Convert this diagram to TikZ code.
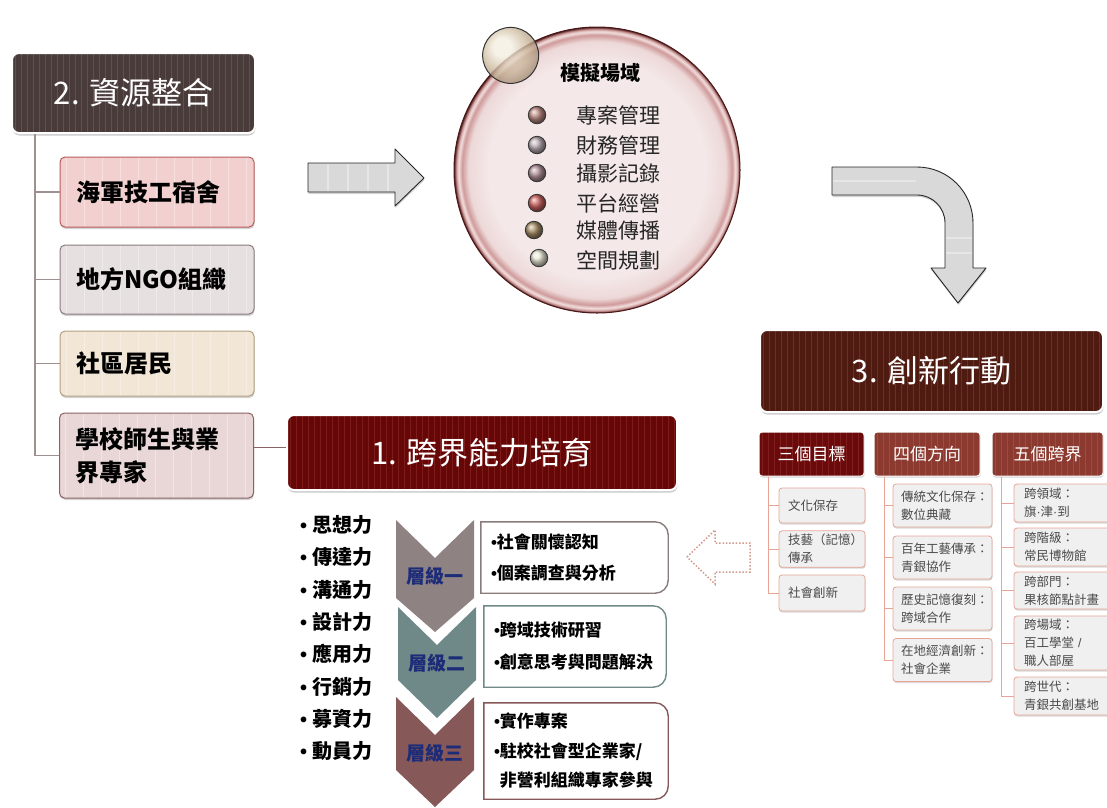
\documentclass[tikz,border=0pt]{standalone}
\usepackage{fontspec}
\setmainfont{Noto Sans CJK TC}
\newfontfamily\latinfont{Liberation Sans}
\newcommand{\bul}{{\latinfont •}}
\newcommand{\mdot}{{\latinfont ·}}
\usetikzlibrary{shadows,calc}

\definecolor{hdrtwo}{HTML}{4A3B3B}
\definecolor{hdrtwoS}{HTML}{605050}
\definecolor{hdrone}{HTML}{660707}
\definecolor{hdroneS}{HTML}{7E1C1C}
\definecolor{hdrthree}{HTML}{4F1A10}
\definecolor{hdrthreeS}{HTML}{6B3024}
\definecolor{bAf}{HTML}{F3D0D0}\definecolor{bAd}{HTML}{B85A5A}
\definecolor{bBf}{HTML}{E7E0E1}\definecolor{bBd}{HTML}{8C7C7E}
\definecolor{bCf}{HTML}{F2E6D6}\definecolor{bCd}{HTML}{B3A082}
\definecolor{bDf}{HTML}{E9D6D6}\definecolor{bDd}{HTML}{8A6464}
\definecolor{lconn}{HTML}{A08F8F}
\definecolor{chevA}{HTML}{8F8282}
\definecolor{chevB}{HTML}{6E8987}
\definecolor{chevC}{HTML}{875858}
\definecolor{lvl}{HTML}{1C2C78}
\definecolor{rAd}{HTML}{8A7C7C}
\definecolor{rBd}{HTML}{6F8A88}
\definecolor{rCd}{HTML}{875858}
\definecolor{arrfill}{HTML}{D9D9D9}
\definecolor{arrstripe}{HTML}{E6E6E6}
\definecolor{dotarr}{HTML}{D39A8C}
\definecolor{bubin}{HTML}{F4E8E8}
\definecolor{bubmid}{HTML}{EDD8D8}
\definecolor{bubrim}{HTML}{CF9A9A}
\definecolor{bubhi}{HTML}{F2E0E0}
\definecolor{bubdark}{HTML}{4A1818}
\definecolor{chA}{HTML}{6A0A0A}
\definecolor{chB}{HTML}{8C3A30}
\definecolor{chAS}{HTML}{7E1E1E}
\definecolor{chBS}{HTML}{9C4C42}
\definecolor{itemf}{HTML}{F0F0F0}
\definecolor{itemd}{HTML}{E8A595}
\definecolor{itemt}{HTML}{4A4A4A}
\definecolor{pearlA}{HTML}{F4EFE2}
\definecolor{pearlB}{HTML}{CDBBA0}
\definecolor{pearlC}{HTML}{98806A}

\pgfdeclareradialshading{bubble}{\pgfpoint{0bp}{0bp}}{color(0bp)=(bubin); color(19bp)=(bubin); color(22.5bp)=(bubmid); color(23.6bp)=(bubrim); color(24.2bp)=(bubhi); color(24.6bp)=(bubrim); color(25bp)=(bubdark); color(50bp)=(bubdark)}
\pgfdeclareradialshading{pearl}{\pgfpoint{-9bp}{9bp}}{color(0bp)=(pearlA); color(8bp)=(pearlA); color(20bp)=(pearlB); color(32bp)=(pearlC); color(50bp)=(pearlC)}

\tikzset{
  stripes/.style={path picture={\foreach \i in {0,...,70}{\draw[#1,line width=1pt] ([xshift=\i*6pt+3pt]path picture bounding box.north west) -- ([xshift=\i*6pt+3pt]path picture bounding box.south west);}}},
  softstripes/.style={path picture={\foreach \i in {0,...,40}{\draw[white,opacity=0.35,line width=1pt] ([xshift=\i*18pt+6pt]path picture bounding box.north west) -- ([xshift=\i*18pt+6pt]path picture bounding box.south west);}}},
  hdr/.style={rounded corners=7pt, draw=white, line width=2pt, text=white, inner sep=0,
    drop shadow={shadow xshift=0.5pt,shadow yshift=-2.5pt,opacity=0.4}},
  lbox/.style={rounded corners=5pt, line width=1pt, minimum width=194pt, text width=162pt, inner xsep=16pt,
    align=left, font=\bfseries\fontsize{24}{33}\selectfont, softstripes,
    drop shadow={shadow xshift=0.5pt,shadow yshift=-2pt,opacity=0.35}},
  lconnector/.style={draw=lconn, line width=1.2pt},
  skill/.style={anchor=west, inner sep=0, font=\bfseries\fontsize{20}{24}\selectfont},
  lvltext/.style={text=lvl, font=\bfseries\fontsize{19}{22}\selectfont, inner sep=0},
  rbox/.style={inner xsep=10pt, align=left, font=\bfseries\fontsize{17}{31}\selectfont},
  rline/.style={draw=#1, line width=1.4pt, fill=white},
  blockarrow/.style={fill=arrfill, draw=black!85, line width=0.9pt, line join=round,
    drop shadow={shadow xshift=0.5pt,shadow yshift=-2pt,opacity=0.35}},
  dotarrow/.style={draw=dotarr, line width=1.5pt, dash pattern=on 1.5pt off 1.8pt},
  colhdr/.style={rounded corners=3pt, draw=white, line width=1pt, text=white, minimum height=44pt,
    font=\fontsize{17}{20}\selectfont, inner sep=0,
    drop shadow={shadow xshift=0.5pt,shadow yshift=-1.5pt,opacity=0.35}},
  item/.style={fill=itemf, draw=itemd, line width=0.8pt, rounded corners=3pt, align=left, inner xsep=0,
    text=itemt, font=\fontsize{12.5}{18}\selectfont,
    drop shadow={shadow xshift=0.5pt,shadow yshift=-1.5pt,opacity=0.3}},
  iconnector/.style={draw=itemd, line width=0.8pt},
  dot/.style={circle, inner sep=0, minimum size=17.5pt, draw=black!80, line width=0.8pt},
  simtext/.style={anchor=west, inner sep=0, text=black!85, font=\fontsize{21}{24}\selectfont},
}

\begin{document}
\begin{tikzpicture}[x=1pt,y=-1pt]
\useasboundingbox (0,0) rectangle (1107,807);

% ---------- 2. resources ----------
\node[hdr, fill=hdrtwo, stripes=hdrtwoS, minimum width=243pt, minimum height=80pt] (h2) at (133.5,93)
  {\fontsize{31}{37}\selectfont 2. 資源整合};
\node[lbox, fill=bAf, draw=bAd, minimum height=70pt] (b1) at (157,192) {海軍技工宿舍};
\node[lbox, fill=bBf, draw=bBd, minimum height=69pt] (b2) at (157,279.5) {地方NGO組織};
\node[lbox, fill=bCf, draw=bCd, minimum height=65pt] (b3) at (157,363.5) {社區居民};
\node[lbox, fill=bDf, draw=bDd, minimum height=85pt] (b4) at (156.5,455.5) {學校師生與業\\界專家};
\foreach \b in {b1,b2,b3,b4}{\draw[lconnector] ([xshift=24pt]h2.south west) |- (\b.west);}

% ---------- arrow to simulation ----------
\draw[blockarrow] (308,163) -- (395,163) -- (395,149) -- (424,178) -- (395,206) -- (395,192) -- (308,192) -- cycle;
\foreach \x in {328,348,368,388}{\draw[arrstripe, line width=1.2pt] (\x,164) -- (\x,191);}

% ---------- simulation bubble ----------
\node[circle, minimum size=286pt, inner sep=0, shading=bubble, draw=bubdark, line width=1pt] (sim) at (597,170) {};
\node[circle, minimum size=56pt, inner sep=0, shading=pearl, fill opacity=0.8, draw=black!80, line width=1pt] (pb) at (sim.127) {};
\node[inner sep=0, font=\bfseries\fontsize{20}{24}\selectfont] (simt) at (600,73) {模擬場域};
\node[dot, ball color={rgb,255:red,190;green,140;blue,132}] (d1) at (537,115) {};
\node[dot, ball color={rgb,255:red,190;green,176;blue,184}] (d2) at (537,145) {};
\node[dot, ball color={rgb,255:red,180;green,148;blue,156}] (d3) at (537,173) {};
\node[dot, ball color={rgb,255:red,206;green,100;blue,96}] (d4) at (537,203) {};
\node[dot, ball color={rgb,255:red,170;green,144;blue,104}] (d5) at (534,230) {};
\node[dot, ball color={rgb,255:red,232;green,232;blue,214}] (d6) at (539,258) {};
\node[simtext] (t1) at (576,115) {專案管理};
\node[simtext] (t2) at (576,145) {財務管理};
\node[simtext] (t3) at (576,173) {攝影記錄};
\node[simtext] (t4) at (576,203) {平台經營};
\node[simtext] (t5) at (576,231) {媒體傳播};
\node[simtext] (t6) at (576,260) {空間規劃};

% ---------- curved arrow ----------
\draw[blockarrow] (832,167) -- (917,167) .. controls (948,167) and (973,192) .. (973,223)
  -- (973,268) -- (986,268) -- (958,303) -- (931,268) -- (945,268) -- (945,223)
  .. controls (945,207.5) and (932.5,195) .. (917,195) -- (832,195) -- cycle;
\foreach \y in {181}{\draw[arrstripe, line width=1.2pt] (833,\y) -- (916,\y);}
\foreach \y in {238,253}{\draw[arrstripe, line width=1.2pt] (946,\y) -- (972,\y);}

% ---------- 3. innovation ----------
\node[hdr, fill=hdrthree, stripes=hdrthreeS, minimum width=343pt, minimum height=82pt] (h3) at (931.5,371)
  {\fontsize{31}{37}\selectfont 3. 創新行動};
\node[colhdr, fill=chA, stripes=chAS, minimum width=105pt] (c1) at (811.5,454) {三個目標};
\node[colhdr, fill=chB, stripes=chBS, minimum width=106pt] (c2) at (927,454) {四個方向};
\node[colhdr, fill=chB, stripes=chBS, minimum width=111pt] (c3) at (1047.5,454) {五個跨界};

\node[item, minimum width=86pt, text width=68pt, minimum height=35pt] (i11) at (822,505.5) {文化保存};
\node[item, minimum width=86pt, text width=68pt, minimum height=36pt] (i12) at (822,549) {技藝（記憶）\\傳承};
\node[item, minimum width=86pt, text width=68pt, minimum height=36pt] (i13) at (822,593) {社會創新};

\node[item, minimum width=99pt, text width=83pt, minimum height=43pt] (i21) at (942.5,505.5) {傳統文化保存：\\數位典藏};
\node[item, minimum width=99pt, text width=83pt, minimum height=43pt] (i22) at (942.5,557.5) {百年工藝傳承：\\青銀協作};
\node[item, minimum width=99pt, text width=83pt, minimum height=43pt] (i23) at (942.5,608.5) {歷史記憶復刻：\\跨域合作};
\node[item, minimum width=99pt, text width=83pt, minimum height=43pt] (i24) at (942.5,660) {在地經濟創新：\\社會企業};

\node[item, minimum width=96pt, text width=76pt, minimum height=38pt] (i31) at (1062,503) {跨領域：\\旗\mdot 津\mdot 到};
\node[item, minimum width=96pt, text width=76pt, minimum height=38pt] (i32) at (1062,547) {跨階級：\\常民博物館};
\node[item, minimum width=96pt, text width=76pt, minimum height=37pt] (i33) at (1062,590.5) {跨部門：\\果核節點計畫};
\node[item, minimum width=96pt, text width=76pt, minimum height=54pt] (i34) at (1062,643) {跨場域：\\百工學堂{\latinfont\ /}\\職人部屋};
\node[item, minimum width=96pt, text width=76pt, minimum height=38pt] (i35) at (1062,696) {跨世代：\\青銀共創基地};

\foreach \b in {i11,i12,i13}{\draw[iconnector] ([xshift=10pt]c1.south west) |- (\b.west);}
\foreach \b in {i21,i22,i23,i24}{\draw[iconnector] ([xshift=11pt]c2.south west) |- (\b.west);}
\foreach \b in {i31,i32,i33,i34,i35}{\draw[iconnector] ([xshift=10pt]c3.south west) |- (\b.west);}

% ---------- dotted arrow back ----------
\draw[dotarrow] (687,557) -- (715,530) -- (715,543) -- (750,543) -- (750,572) -- (715,572) -- (715,584) -- cycle;

% ---------- 1. competence ----------
\node[hdr, fill=hdrone, stripes=hdroneS, minimum width=390pt, minimum height=75pt] (h1) at (482,452.5)
  {\fontsize{31}{37}\selectfont 1. 跨界能力培育};
\draw[draw=bDd, line width=1pt] ([yshift=8.5pt]b4.east) -- ([yshift=8.5pt]b4.east -| h1.west);

\node[skill] (s1) at (300,525) {\bul\hspace{5pt}思想力};
\node[skill] (s2) at (300,557) {\bul\hspace{5pt}傳達力};
\node[skill] (s3) at (300,590) {\bul\hspace{5pt}溝通力};
\node[skill] (s4) at (300,622) {\bul\hspace{5pt}設計力};
\node[skill] (s5) at (300,654) {\bul\hspace{5pt}應用力};
\node[skill] (s6) at (300,687) {\bul\hspace{5pt}行銷力};
\node[skill] (s7) at (300,719) {\bul\hspace{5pt}募資力};
\node[skill] (s8) at (300,751) {\bul\hspace{5pt}動員力};

\fill[chevA] (396,520) -- (435,558) -- (474,520) -- (474,598) -- (435,632) -- (396,598) -- cycle;
\fill[chevB] (398,607) -- (437,645) -- (476,607) -- (476,680) -- (437,718) -- (398,680) -- cycle;
\fill[chevC] (396,697) -- (435,735) -- (474,697) -- (474,770) -- (435,807) -- (396,770) -- cycle;
\node[lvltext] (l1) at (435,576) {層級一};
\node[lvltext] (l2) at (437,663) {層級二};
\node[lvltext] (l3) at (435,753) {層級三};

\node[rbox, minimum width=187pt, text width=167pt, minimum height=71pt] (r1) at (574.5,557.5) {};
\draw[rline=rAd] (r1.north west) -- (r1.north) [rounded corners=13pt] -- (r1.north east) -- (r1.south east) -- (r1.south) [sharp corners] -- (r1.south west) -- cycle;
\node[rbox, text width=167pt] (r1t) at (r1.center) {\bul 社會關懷認知\\\bul 個案調查與分析};

\node[rbox, minimum width=182pt, text width=162pt, minimum height=81pt] (r2) at (575,646.5) {};
\draw[rline=rBd] (r2.north west) -- (r2.north) [rounded corners=13pt] -- (r2.north east) -- (r2.south east) -- (r2.south) [sharp corners] -- (r2.south west) -- cycle;
\node[rbox, text width=162pt, font=\bfseries\fontsize{17}{32}\selectfont] (r2t) at (r2.center) {\bul 跨域技術研習\\\bul 創意思考與問題解決};

\node[rbox, minimum width=184pt, text width=164pt, minimum height=96pt] (r3) at (576,751) {};
\draw[rline=rCd] (r3.north west) -- (r3.north) [rounded corners=13pt] -- (r3.north east) -- (r3.south east) -- (r3.south) [sharp corners] -- (r3.south west) -- cycle;
\node[rbox, text width=164pt, font=\bfseries\fontsize{17}{29.5}\selectfont] (r3t) at (r3.center) {\bul 實作專案\\\bul 駐校社會型企業家/\\\phantom{\bul}非營利組織專家參與};

\end{tikzpicture}
\end{document}
